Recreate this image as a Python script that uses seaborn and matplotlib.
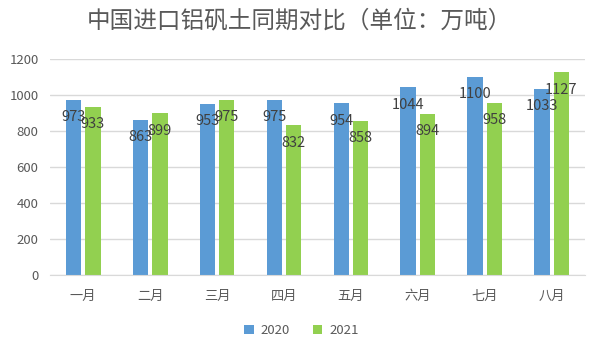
import pandas as pd
import matplotlib.pyplot as plt
import seaborn as sns

# dados
meses = ['一月', '二月', '三月', '四月', '五月', '六月', '七月', '八月']
v2020 = [973, 863, 953, 975, 954, 1044, 1100, 1033]
v2021 = [933, 899, 975, 832, 858, 894, 958, 1127]
anos = ['2020', '2021']

df = pd.DataFrame({
    'mes': meses * 2,
    'valor': v2020 + v2021,
    'ano': [anos[0]] * len(meses) + [anos[1]] * len(meses),
})

sns.set_style('white')
plt.rcParams['font.family'] = ['Noto Sans CJK SC', 'DejaVu Sans']

fig = plt.figure(figsize=(5.99, 3.56), dpi=100)
ax = fig.add_axes([0.083, 0.228, 0.894, 0.606])

sns.barplot(data=df, x='mes', y='valor', hue='ano', order=meses, hue_order=anos,
            palette=['#5B9BD5', '#92D050'], width=0.577, gap=0.2,
            saturation=1, linewidth=0, ax=ax)

# rótulos dentro das barras, perto do topo
for cont in ax.containers:
    for p in cont:
        ax.annotate(f'{p.get_height():.0f}',
                    (p.get_x() + p.get_width() / 2, p.get_height()),
                    xytext=(0, -12.5), textcoords='offset points',
                    ha='center', va='center', fontsize=10.5, color='#404040')

ax.set_ylim(0, 1200)
ax.set_yticks(range(0, 1201, 200))
ax.set_xlim(-0.5, len(meses) - 0.5)
ax.grid(axis='y', color='#D9D9D9', linewidth=1)
ax.set_axisbelow(True)
for s in ['left', 'right', 'top']:
    ax.spines[s].set_visible(False)
ax.spines['bottom'].set_color('#D9D9D9')
ax.tick_params(axis='both', length=0, labelsize=9.5, colors='#595959')
ax.tick_params(axis='x', pad=11)
ax.tick_params(axis='y', pad=8)
ax.set_xlabel('')
ax.set_ylabel('')

ax.legend(loc='upper center', bbox_to_anchor=(0.47, -0.175), ncol=2, frameon=False,
          fontsize=9.5, handlelength=0.7, handleheight=0.7, columnspacing=1.8,
          handletextpad=0.5, labelcolor='#595959')

fig.text(0.5, 0.94, '中国进口铝矾土同期对比（单位：万吨）', ha='center', va='center',
         fontsize=17, color='#595959')

fig.savefig('out.png', dpi=100)
